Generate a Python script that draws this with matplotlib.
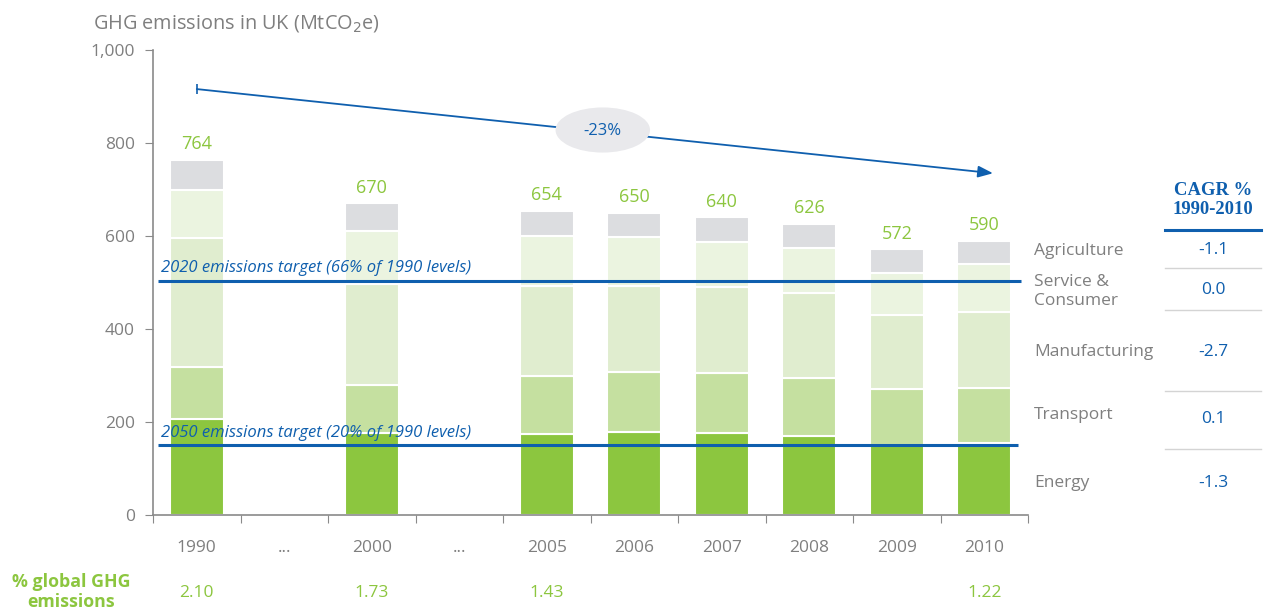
import matplotlib
matplotlib.use("Agg")
import matplotlib.pyplot as plt
import matplotlib.transforms as mtransforms
from matplotlib.patches import Ellipse

# ---------------- data ----------------
slots = ["1990", "...", "2000", "...", "2005", "2006", "2007", "2008", "2009", "2010"]
years = ["1990", "2000", "2005", "2006", "2007", "2008", "2009", "2010"]
energy        = [206, 177, 174, 179, 176, 170, 150, 155]
transport     = [112, 103, 125, 129, 129, 125, 120, 118]
manufacturing = [278, 217, 193, 185, 185, 182, 160, 163]
service       = [104, 114, 108, 104,  97,  97,  91, 104]
agriculture   = [ 64,  59,  54,  53,  53,  52,  51,  50]
totals        = [764, 670, 654, 650, 640, 626, 572, 590]
sector_names  = ["Energy", "Transport", "Manufacturing", "Service &\nConsumer", "Agriculture"]
cagr          = ["-1.3", "0.1", "-2.7", "0.0", "-1.1"]
global_share_years = ["1990", "2000", "2005", "2010"]
global_share  = ["2.10", "1.73", "1.43", "1.22"]
target_2020 = 504
target_2050 = 150
arrow_start = 916
arrow_end = 735
change_label = "-23%"

# ---------------- style ----------------
colors = ["#8cc63f", "#c5e0a0", "#e0edcf", "#ebf4e0", "#dcdde0"]
green_txt = "#8cc63f"
grey_txt = "#7f7f7f"
blue = "#0f5fae"
sans = ["Open Sans", "DejaVu Sans"]
fs = 12.5

fig = plt.figure(figsize=(12.69, 6.10), dpi=100)
ax = fig.add_axes([0.1206, 0.1557, 0.6895, 0.7623])

xpos = [slots.index(y) for y in years]
series = [energy, transport, manufacturing, service, agriculture]
bottom = [0] * len(years)
for vals, c in zip(series, colors):
    ax.bar(xpos, vals, bottom=bottom, width=0.62, color=c, edgecolor="white",
           linewidth=1.5, zorder=2)
    bottom = [b + v for b, v in zip(bottom, vals)]

for x, t in zip(xpos, totals):
    ax.text(x, t + 14, str(t), ha="center", va="bottom", color=green_txt,
            fontsize=13, family=sans)

ax.set_xlim(-0.5, len(slots) - 0.5)
ax.set_ylim(0, 1000)
ax.set_yticks(range(0, 1001, 200))
ax.set_yticklabels(["0", "200", "400", "600", "800", "1,000"], color=grey_txt,
                   fontsize=fs, family=sans)
ax.set_xticks([i - 0.5 for i in range(len(slots) + 1)])
ax.set_xticklabels([])
ax.set_xticks(range(len(slots)), minor=True)
ax.set_xticklabels(slots, minor=True, color=grey_txt, fontsize=fs, family=sans)
ax.tick_params(axis="x", which="minor", length=0, pad=18)
ax.tick_params(axis="x", which="major", length=6, color="#8a8a8a", direction="out")
ax.tick_params(axis="y", length=6, color="#8a8a8a", pad=7)
for s in ["top", "right"]:
    ax.spines[s].set_visible(False)
for s in ["left", "bottom"]:
    ax.spines[s].set_color("#8a8a8a")
    ax.spines[s].set_linewidth(1.2)

# target lines
ax.plot([-0.44, 9.42], [target_2020, target_2020], color=blue, lw=2.2, zorder=3,
        solid_capstyle="butt")
ax.plot([-0.44, 9.38], [target_2050, target_2050], color=blue, lw=2.2, zorder=3,
        solid_capstyle="butt")
ax.text(-0.41, target_2020 + 10, "2020 emissions target (66% of 1990 levels)",
        color=blue, style="italic", fontsize=12, family=sans, va="bottom", zorder=4)
ax.text(-0.41, target_2050 + 10, "2050 emissions target (20% of 1990 levels)",
        color=blue, style="italic", fontsize=12, family=sans, va="bottom", zorder=4)

# arrow
ax.annotate("", xy=(9.1, arrow_end), xytext=(0.0, arrow_start),
            arrowprops=dict(arrowstyle="-|>,head_length=0.9,head_width=0.35",
                            color=blue, lw=1.3, shrinkA=0, shrinkB=0), zorder=4)
ax.plot([0.0], [arrow_start], marker="|", markersize=7, color=blue,
        markeredgewidth=1.2, zorder=4)
ell = Ellipse((4.64, 828), width=1.08, height=97, facecolor="#e9e9ec",
              edgecolor="none", zorder=5)
ax.add_patch(ell)
ax.text(4.64, 826, change_label, ha="center", va="center", color=blue,
        fontsize=12, family=sans, zorder=6)

# title
fig.text(0.073, 0.962, "GHG emissions in UK (MtCO$_2$e)", color=grey_txt,
         fontsize=14.3, family=sans, va="center", ha="left")

# sector labels + CAGR table
label_y = [483, 415, 352, 291, 251]
for name, y in zip(sector_names, label_y):
    fig.text(1034 / 1269, 1 - y / 610, name, color=grey_txt, fontsize=fs,
             family=sans, va="center", ha="left", linespacing=1.25)
cagr_y = [483, 419, 352, 290, 250]
for v, y in zip(cagr, cagr_y):
    fig.text(1213 / 1269, 1 - y / 610, v, color=blue, fontsize=fs,
             family=sans, va="center", ha="center")
fig.text(1213 / 1269, 1 - 200 / 610, "CAGR %\n1990-2010", color=blue,
         fontsize=13.4, fontweight="bold", family=["Liberation Serif", "DejaVu Serif"],
         va="center", ha="center", linespacing=1.1)
fig.add_artist(plt.Line2D([1165 / 1269, 1261 / 1269], [1 - 230 / 610] * 2,
                          color=blue, lw=2.2))
for y in [268, 310, 391, 449]:
    fig.add_artist(plt.Line2D([1165 / 1269, 1261 / 1269], [1 - y / 610] * 2,
                              color="#d4d4d4", lw=1.0))

# global share row
fig.text(71 / 1269, 1 - 592 / 610, "% global GHG\nemissions", color=green_txt,
         fontsize=12.8, fontweight="bold", family=sans, va="center", ha="center",
         linespacing=1.1)
offset = mtransforms.ScaledTranslation(0, -78 / 100, fig.dpi_scale_trans)
for yr, v in zip(global_share_years, global_share):
    ax.text(slots.index(yr), 0, v, color=green_txt, fontsize=fs, family=sans,
            ha="center", va="center", transform=ax.get_xaxis_transform() + offset)

fig.savefig("out.png", dpi=100)
